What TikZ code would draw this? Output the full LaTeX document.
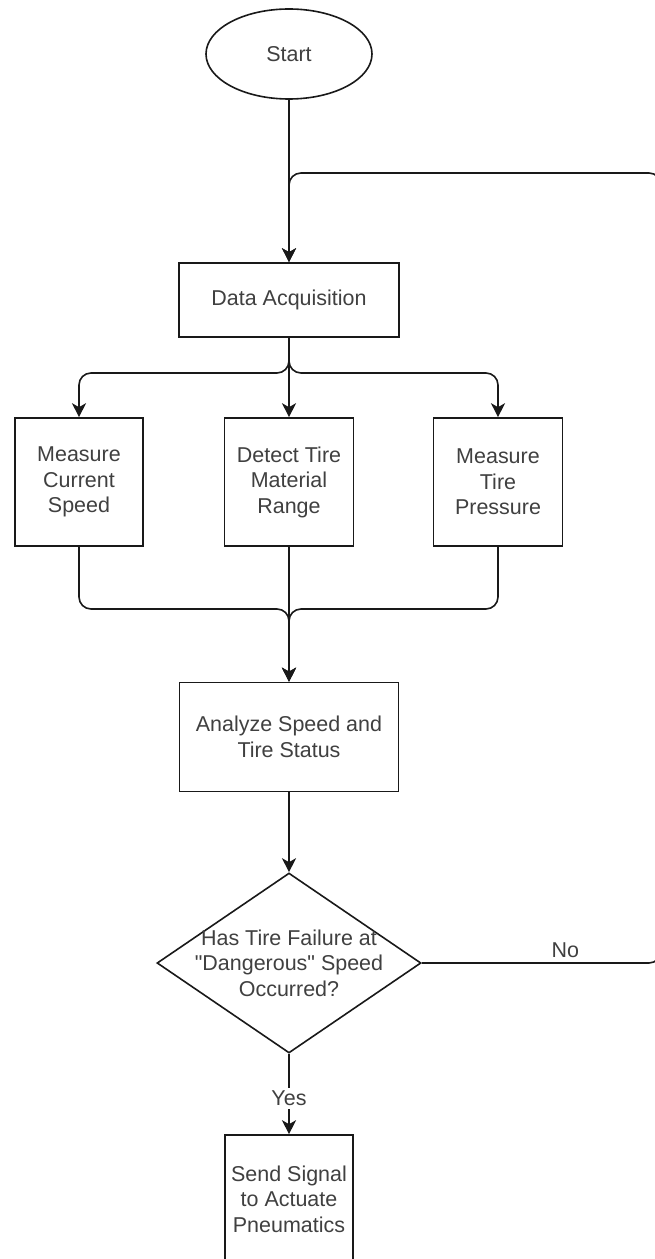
\documentclass[tikz,border=0pt]{standalone}
\usepackage{fontspec}
\setmainfont{Liberation Sans}
\usetikzlibrary{shapes.geometric,arrows.meta}
\newlength{\du}
\setlength{\du}{0.75pt}
\definecolor{dialinecolor}{rgb}{0.100000, 0.100000, 0.100000}
\definecolor{diatextcolor}{rgb}{0.250000, 0.250000, 0.250000}

\begin{document}
\begin{tikzpicture}[
  every node/.style={font=\fontsize{16.1}{19.1}\selectfont, text=diatextcolor},
  stepbox/.style={draw=dialinecolor, line width=1.2pt, fill=white, inner sep=0pt, align=center},
  startnode/.style={ellipse, draw=dialinecolor, line width=1.2pt, fill=white, minimum width=166\du, minimum height=90\du, inner sep=0pt},
  decide/.style={diamond, draw=dialinecolor, line width=1.2pt, fill=white, minimum width=264\du, minimum height=180\du, inner sep=0pt},
  flow/.style={draw=dialinecolor, line width=1.2pt, -{Stealth[length=10.5pt, width=10.5pt, inset=3pt]}},
  elbow/.style={flow, rounded corners=12\du},
  lbl/.style={inner sep=3\du, fill=white}
]
\pgftransformxscale{1.000000}
\pgftransformyscale{-1.000000}
\useasboundingbox[fill=white] (0\du,0\du) rectangle (655\du,1259\du);

% blocks
\node[startnode] (start) at (289\du,54\du) {Start};
\node[stepbox, minimum width=220\du, minimum height=74\du] (acq) at (289\du,300\du) {Data Acquisition};
\node[stepbox, minimum width=128\du, minimum height=128\du] (speed) at (79\du,482\du) {Measure\\Current\\Speed};
\node[stepbox, minimum width=129\du, minimum height=128\du] (tire) at (289\du,482\du) {Detect Tire\\Material\\Range};
\node[stepbox, minimum width=129\du, minimum height=128\du] (press) at (498\du,482\du) {Measure\\Tire\\Pressure};
\node[stepbox, minimum width=219\du, minimum height=109\du] (analyze) at (289\du,737\du) {Analyze Speed and\\Tire Status};
\node[decide] (decision) at (289\du,963\du) {};
\node[align=center] (question) at (decision) {Has Tire Failure at\\\textquotedbl Dangerous\textquotedbl{} Speed\\Occurred?};
\node[stepbox, minimum width=128\du, minimum height=128\du] (send) at (289\du,1199\du) {Send Signal\\to Actuate\\Pneumatics};

% bends
\coordinate (fork) at (289\du,373\du);
\coordinate (merge) at (289\du,609\du);
\coordinate (back) at (661\du,173\du);

\draw[flow] (start) -- (acq);
\draw[elbow] (decision.east) -- node[pos=0.6, above, inner sep=5\du] {No} (decision.east -| back) -- (back) -- (start.south |- back) -- (acq.north);

\draw[elbow] (acq.south) -- (fork) -| (speed.north);
\draw[flow] (acq.south) -- (tire.north);
\draw[elbow] (acq.south) -- (fork) -| (press.north);

\draw[elbow] (speed.south) |- (merge) -- (analyze.north);
\draw[flow] (tire.south) -- (analyze.north);
\draw[elbow] (press.south) |- (merge) -- (analyze.north);

\draw[flow] (analyze) -- (decision);
\draw[flow] (decision) -- node[lbl, pos=0.55] {Yes} (send);
\end{tikzpicture}
\end{document}
